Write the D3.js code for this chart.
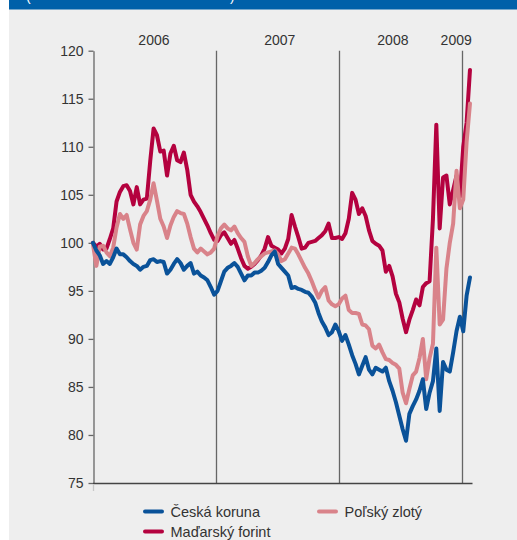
<!DOCTYPE html>
<html>
<head>
<meta charset="utf-8">
<script src="https://cdn.jsdelivr.net/npm/d3@7"></script>
<style>
  html, body { margin: 0; padding: 0; background: #fff; }
  svg { display: block; font-family: "Liberation Sans", Arial, sans-serif; }
</style>
</head>
<body>
<svg id="chart" width="517" height="540"></svg>
<script>
// index values, one reading every 10 days from 1 Jan 2006
var startDate = new Date(2006, 0, 1);
var stepDays = 10;

var czk = [100.0, 99.2, 98.7, 97.8, 98.1, 97.8, 98.5, 99.4, 98.8, 98.8,
  98.5, 98.1, 97.8, 97.6, 97.2, 97.5, 97.6, 98.2, 98.3, 98.0,
  98.1, 98.0, 96.8, 97.2, 97.8, 98.3, 97.9, 97.2, 97.6, 97.9,
  96.8, 97.0, 96.6, 96.4, 96.1, 95.4, 94.6, 95.0, 96.0, 97.0,
  97.4, 97.6, 97.9, 97.5, 96.8, 96.1, 96.6, 96.6, 96.9, 96.9,
  97.1, 97.4, 98.0, 98.7, 99.1, 97.8, 97.4, 97.0, 96.6, 95.3,
  95.4, 95.2, 95.1, 94.9, 94.8, 94.4, 93.8, 92.7, 91.8, 91.2,
  90.4, 90.7, 91.5, 90.8, 89.8, 90.4, 89.4, 88.3, 87.4, 86.3,
  87.2, 88.1, 86.8, 86.3, 87.0, 86.8, 86.6, 87.0, 85.6, 84.6,
  83.4, 82.0, 80.6, 79.4, 82.2, 83.0, 83.7, 84.6, 85.8, 82.7,
  84.4, 85.6, 89.0, 82.5, 87.6, 86.8, 86.6, 88.6, 90.8, 92.3,
  90.8, 94.5, 96.4];

var pln = [99.8, 97.6, 99.6, 99.7, 99.0, 98.6, 99.5, 101.6, 103.0, 102.5,
  102.9, 101.4, 100.0, 99.3, 101.9, 102.8, 103.3, 104.5, 106.2, 104.4,
  102.5, 101.7, 100.5, 101.8, 102.7, 103.3, 103.1, 103.0, 102.0, 100.6,
  99.4, 99.0, 99.4, 99.1, 98.8, 99.0, 99.4, 100.7, 101.5, 101.9,
  101.5, 101.3, 101.7, 101.0, 100.5, 100.1, 98.6, 97.6, 97.9, 98.3,
  98.6, 98.9, 99.0, 99.1, 99.2, 98.8, 98.1, 98.3, 98.9, 99.5,
  99.4, 98.8, 98.1, 97.4, 96.8, 96.0, 95.1, 94.3, 95.0, 95.4,
  94.0, 93.6, 93.4, 93.6, 94.2, 94.5, 93.0, 92.7, 92.7, 92.6,
  91.5, 91.4, 91.0, 89.3, 89.0, 89.4, 88.6, 87.9, 87.8, 87.5,
  87.3, 86.9, 84.4, 83.3, 84.8, 86.2, 86.6, 88.0, 90.0, 85.8,
  88.0, 89.5, 99.5, 91.5, 92.0, 97.3, 100.0, 102.0, 107.5, 103.6,
  104.5, 110.5, 114.5];

var huf = [100.0, 99.6, 99.9, 99.3, 99.4, 100.4, 101.5, 104.3, 105.3, 105.9,
  106.0, 105.4, 104.0, 105.8, 104.0, 104.5, 104.6, 108.5, 111.9, 111.2,
  109.5, 109.6, 107.0, 109.3, 110.1, 108.6, 108.4, 109.4, 107.6, 105.0,
  104.3, 103.8, 103.2, 102.5, 101.8, 101.0, 100.3, 100.2, 100.8, 101.1,
  100.5, 99.9, 100.3, 99.4, 98.4, 97.6, 97.3, 97.5, 97.8, 98.2,
  98.7, 99.4, 100.6, 99.7, 99.5, 99.3, 98.9, 99.4, 100.4, 102.9,
  101.7, 100.6, 99.4, 99.5, 100.0, 100.1, 100.2, 100.5, 100.8, 101.2,
  102.0, 100.5, 100.5, 100.6, 100.4, 101.0, 102.5, 105.2, 104.5, 103.0,
  103.6, 102.8, 101.3, 100.2, 99.9, 99.7, 99.2, 97.0, 97.6, 96.5,
  94.7, 93.8, 92.1, 90.7, 92.0, 93.0, 94.1, 93.5, 95.4, 95.8,
  96.0, 102.5, 112.3, 101.5, 106.8, 107.0, 104.0, 105.5, 107.0, 104.8,
  110.0, 112.5, 118.0];

var seriesNames = ['Česká koruna', 'Poľský zlotý', 'Maďarský forint'];
var seriesColors = ['#0a5299', '#d9838a', '#b4023f'];
var yTicks = [75, 80, 85, 90, 95, 100, 105, 110, 115, 120];
var yearLines = [new Date(2007, 0, 1), new Date(2008, 0, 1), new Date(2009, 0, 1)];
var yearLabels = ['2006', '2007', '2008', '2009'];
var yearLabelDates = [new Date(2006, 6, 1), new Date(2007, 6, 10), new Date(2008, 5, 10), new Date(2008, 11, 15)];

var svg = d3.select('#chart');

// panel background + header band
svg.append('rect').attr('x', 9).attr('y', 0).attr('width', 508).attr('height', 540).attr('fill', '#eeeeee');
svg.append('rect').attr('x', 9).attr('y', 0).attr('width', 508).attr('height', 9.5).attr('fill', '#0060a9');
svg.append('text').attr('x', 26).attr('y', 1).attr('fill', '#fff').attr('font-size', 14).text('(');
svg.append('text').attr('x', 230).attr('y', 1).attr('fill', '#fff').attr('font-size', 14).text(')');

var x = d3.scaleTime()
  .domain([new Date(2006, 0, 1), new Date(2009, 0, 31)])
  .range([93, 472]);
var y = d3.scaleLinear().domain([75, 120]).range([483, 50.7]);

var dates = czk.map(function(d, i) { return d3.timeDay.offset(startDate, i * stepDays); });

// year separators
svg.append('g').selectAll('line').data(yearLines).enter().append('line')
  .attr('x1', function(d) { return Math.round(x(d)) + 0.5; })
  .attr('x2', function(d) { return Math.round(x(d)) + 0.5; })
  .attr('y1', y(120)).attr('y2', y(75))
  .attr('stroke', '#666').attr('stroke-width', 1.3);

svg.append('g').selectAll('text').data(yearLabels).enter().append('text')
  .attr('x', function(d, i) { return x(yearLabelDates[i]); })
  .attr('y', 45)
  .attr('text-anchor', 'middle')
  .attr('font-size', 14)
  .attr('fill', '#333')
  .text(function(d) { return d; });

// y axis
var yAxis = svg.append('g')
  .attr('transform', 'translate(93.5,0)')
  .call(d3.axisLeft(y).tickValues(yTicks).tickSize(5).tickPadding(5).tickSizeOuter(0));
yAxis.select('.domain').attr('stroke', '#666').attr('stroke-width', 1.3);
yAxis.selectAll('.tick line').attr('stroke', '#666').attr('stroke-width', 1.3);
yAxis.selectAll('.tick text').attr('font-size', 14).attr('fill', '#333')
  .attr('font-family', '"Liberation Sans", Arial, sans-serif');

// x axis baseline
svg.append('line').attr('x1', 93).attr('x2', 472.5).attr('y1', 483.5).attr('y2', 483.5)
  .attr('stroke', '#444').attr('stroke-width', 1.3);
svg.append('line').attr('x1', 93.5).attr('x2', 93.5).attr('y1', 484).attr('y2', 491)
  .attr('stroke', '#c8c8c8').attr('stroke-width', 1.3);

var line = d3.line()
  .x(function(d, i) { return x(dates[i]); })
  .y(function(d) { return y(d); });

var drawOrder = [huf, pln, czk];
var drawColors = [seriesColors[2], seriesColors[1], seriesColors[0]];
svg.append('g').selectAll('path').data(drawOrder).enter().append('path')
  .attr('d', line)
  .attr('fill', 'none')
  .attr('stroke', function(d, i) { return drawColors[i]; })
  .attr('stroke-width', 4)
  .attr('stroke-linejoin', 'round')
  .attr('stroke-linecap', 'round');

// legend
var legendPos = [[143, 511.5], [317, 511.5], [143, 531.5]];
var legend = svg.append('g').selectAll('g').data(seriesNames).enter().append('g')
  .attr('transform', function(d, i) { return 'translate(' + legendPos[i][0] + ',' + legendPos[i][1] + ')'; });
legend.append('line').attr('x1', 2).attr('x2', 19).attr('y1', 0).attr('y2', 0)
  .attr('stroke', function(d, i) { return seriesColors[i]; })
  .attr('stroke-width', 4).attr('stroke-linecap', 'round');
legend.append('text').attr('x', 27.5).attr('y', 5.5)
  .attr('font-size', 14.5).attr('fill', '#333')
  .text(function(d) { return d; });
</script>
</body>
</html>
